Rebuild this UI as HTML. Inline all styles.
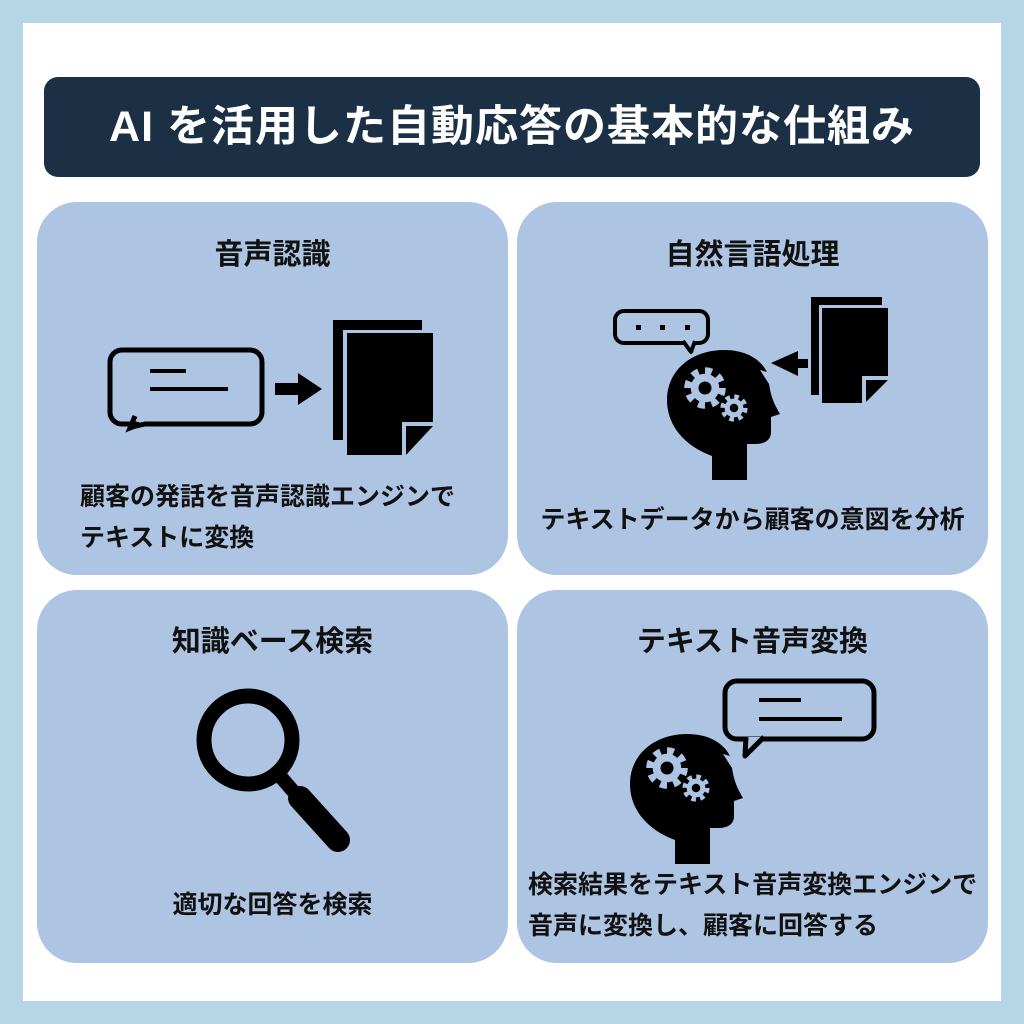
<!DOCTYPE html>
<html><head><meta charset="utf-8"><style>
body{margin:0;width:1024px;height:1024px;background:#b6d5e6;position:relative;overflow:hidden;font-family:"Liberation Sans","Noto Sans CJK JP",sans-serif;}
.inner{position:absolute;left:23px;top:23px;width:978px;height:978px;background:#fff;}
.title{position:absolute;left:44px;top:77px;width:936px;height:100px;background:#1b2f45;border-radius:14px;color:#fff;font-size:43px;font-weight:bold;text-align:center;line-height:100px;letter-spacing:1px;}
.card{position:absolute;width:471px;height:373px;background:#aec4e3;border-radius:40px;}
.t{position:absolute;font-weight:bold;color:#111;white-space:nowrap;}
.h{font-size:29px;width:471px;text-align:center;line-height:40px;}
.b{font-size:25px;line-height:41px;}
svg{position:absolute;left:0;top:0;}
</style></head><body>
<div class="inner"></div>
<div class="title">AI を活用した自動応答の基本的な仕組み</div>
<div class="card" style="left:37px;top:202px"></div>
<div class="card" style="left:517px;top:202px"></div>
<div class="card" style="left:37px;top:590px"></div>
<div class="card" style="left:517px;top:590px"></div>

<div class="t h" style="left:37px;top:235px">音声認識</div>
<div class="t h" style="left:517px;top:235px">自然言語処理</div>
<div class="t h" style="left:37px;top:622px">知識ベース検索</div>
<div class="t h" style="left:517px;top:622px">テキスト音声変換</div>

<div class="t b" style="left:80px;top:477px">顧客の発話を音声認識エンジンで<br>テキストに変換</div>
<div class="t b" style="left:517px;width:471px;text-align:center;top:500px">テキストデータから顧客の意図を分析</div>
<div class="t b" style="left:37px;width:471px;text-align:center;top:885px">適切な回答を検索</div>
<div class="t b" style="left:528px;top:865px">検索結果をテキスト音声変換エンジンで<br>音声に変換し、顧客に回答する</div>

<svg width="1024" height="1024" viewBox="0 0 1024 1024">
<defs>
<g id="head"><path d="M45,130 L45,106 C18,96 0,76 0,50 C0,20 25,0 57,0 C80,0 94,10 100,22 L93,20 L102,34 C104,46 106,52 113,64 L104,67 L104,82 C104,90 98,94 88,94 L80,94 L80,130 Z" fill="#000"/></g>
<g id="gear"><circle r="11" fill="#aec4e3"/><circle r="13" fill="none" stroke="#aec4e3" stroke-width="6" stroke-dasharray="5.2 5"/><circle r="5" fill="#000"/></g>
</defs>
<!-- card1 -->
<path d="M122,350 H250 a12,12 0 0 1 12,12 V412 a12,12 0 0 1 -12,12 H145 L132,427 L136,424 H122 a12,12 0 0 1 -12,-12 V362 a12,12 0 0 1 12,-12Z" fill="none" stroke="#000" stroke-width="5" stroke-linejoin="round"/>
<path d="M140,424 L130,428 L135,416" fill="none" stroke="#000" stroke-width="5"/>
<line x1="150" y1="371" x2="186" y2="371" stroke="#000" stroke-width="4"/>
<line x1="150" y1="389" x2="228" y2="389" stroke="#000" stroke-width="4"/>
<path d="M275,383 H298 V373 L322,389 L298,405 V395 H275Z" fill="#000"/>
<path d="M333,320 H422 V330 H343 V440 H333Z" fill="#000"/>
<path d="M347,333 H433 V422 H402 V455 H347Z" fill="#000"/>
<path d="M406,426 H433 L406,455Z" fill="#000"/>
<!-- card2 -->
<rect x="615" y="311" width="93" height="32" rx="9" fill="none" stroke="#000" stroke-width="4"/>
<path d="M683,341 L691,352 L695,341" fill="#aec4e3" stroke="#000" stroke-width="4" stroke-linejoin="round"/>
<rect x="636" y="325" width="5" height="5"/><rect x="660" y="325" width="5" height="5"/><rect x="685" y="325" width="5" height="5"/>
<use href="#head" x="667" y="350"/>
<use href="#gear" transform="translate(705,388) scale(1.3)"/>
<use href="#gear" transform="translate(734,408) scale(0.85)"/>
<path d="M771,363 L798,351 V359 H808 V368 H798 V376Z" fill="#000"/>
<path d="M811,297 H882 V305 H819 V395 H811Z" fill="#000"/>
<path d="M822,308 H888 V376 H862 V403 H822Z" fill="#000"/>
<path d="M866,380 H888 L866,402Z" fill="#000"/>
<!-- card3 -->
<circle cx="248" cy="740" r="44" fill="none" stroke="#000" stroke-width="15"/>
<line x1="280" y1="776" x2="293" y2="791" stroke="#000" stroke-width="14"/>
<line x1="300" y1="798" x2="338" y2="840" stroke="#000" stroke-width="24" stroke-linecap="round"/>
<!-- card4 -->
<rect x="725" y="681" width="149" height="58" rx="12" fill="none" stroke="#000" stroke-width="5"/>
<path d="M746,737 L745,756 L764,737" fill="#aec4e3" stroke="#000" stroke-width="5" stroke-linejoin="round"/>
<line x1="759" y1="700" x2="801" y2="700" stroke="#000" stroke-width="4"/>
<line x1="759" y1="719" x2="842" y2="719" stroke="#000" stroke-width="4"/>
<use href="#head" x="630" y="734"/>
<use href="#gear" transform="translate(667,768) scale(1.3)"/>
<use href="#gear" transform="translate(696,788) scale(0.85)"/>
</svg>
</body></html>
